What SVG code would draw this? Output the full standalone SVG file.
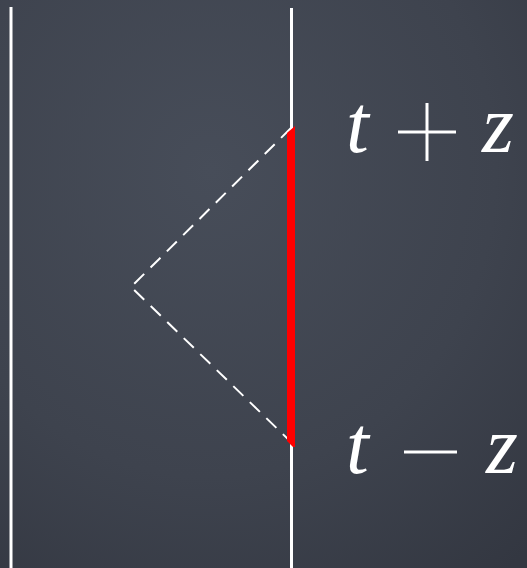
<svg xmlns="http://www.w3.org/2000/svg" width="527" height="568" viewBox="0 0 527 568">
<defs>
<radialGradient id="bg" cx="0.4" cy="0.3" r="0.9">
<stop offset="0" stop-color="#474d59"/>
<stop offset="0.6" stop-color="#3e434e"/>
<stop offset="1" stop-color="#333741"/>
</radialGradient>
</defs>
<style>
.wl{stroke:#ffffff;stroke-width:3;fill:none}
.dash{stroke:#ffffff;stroke-width:2;fill:none;stroke-dasharray:14 9}
.m{fill:#ffffff;font-family:"Liberation Serif",serif;font-style:italic;font-size:82px}
</style>
<rect width="527" height="568" fill="url(#bg)"/>
<g id="left-line"><line class="wl" x1="11" y1="7" x2="11" y2="568"/></g>
<g id="right-line"><line class="wl" x1="291.5" y1="8" x2="291.5" y2="568"/></g>
<g id="connectors">
<polyline class="dash" points="291,128 131,287 291,442"/>
</g>
<g id="red-segment"><polygon points="287,133 295,126 295,447 293,447 287,441" fill="#ff0000"/></g>
<g id="label-top">
<text class="m" x="346" y="152">t</text>
<line x1="398" y1="132" x2="456" y2="132" stroke="#fff" stroke-width="3"/>
<line x1="427" y1="103" x2="427" y2="161" stroke="#fff" stroke-width="3"/>
<text class="m" x="482" y="152">z</text>
</g>
<g id="label-bottom">
<text class="m" x="346" y="473">t</text>
<line x1="404" y1="452" x2="457" y2="452" stroke="#fff" stroke-width="3"/>
<text class="m" x="486" y="473">z</text>
</g>
</svg>
